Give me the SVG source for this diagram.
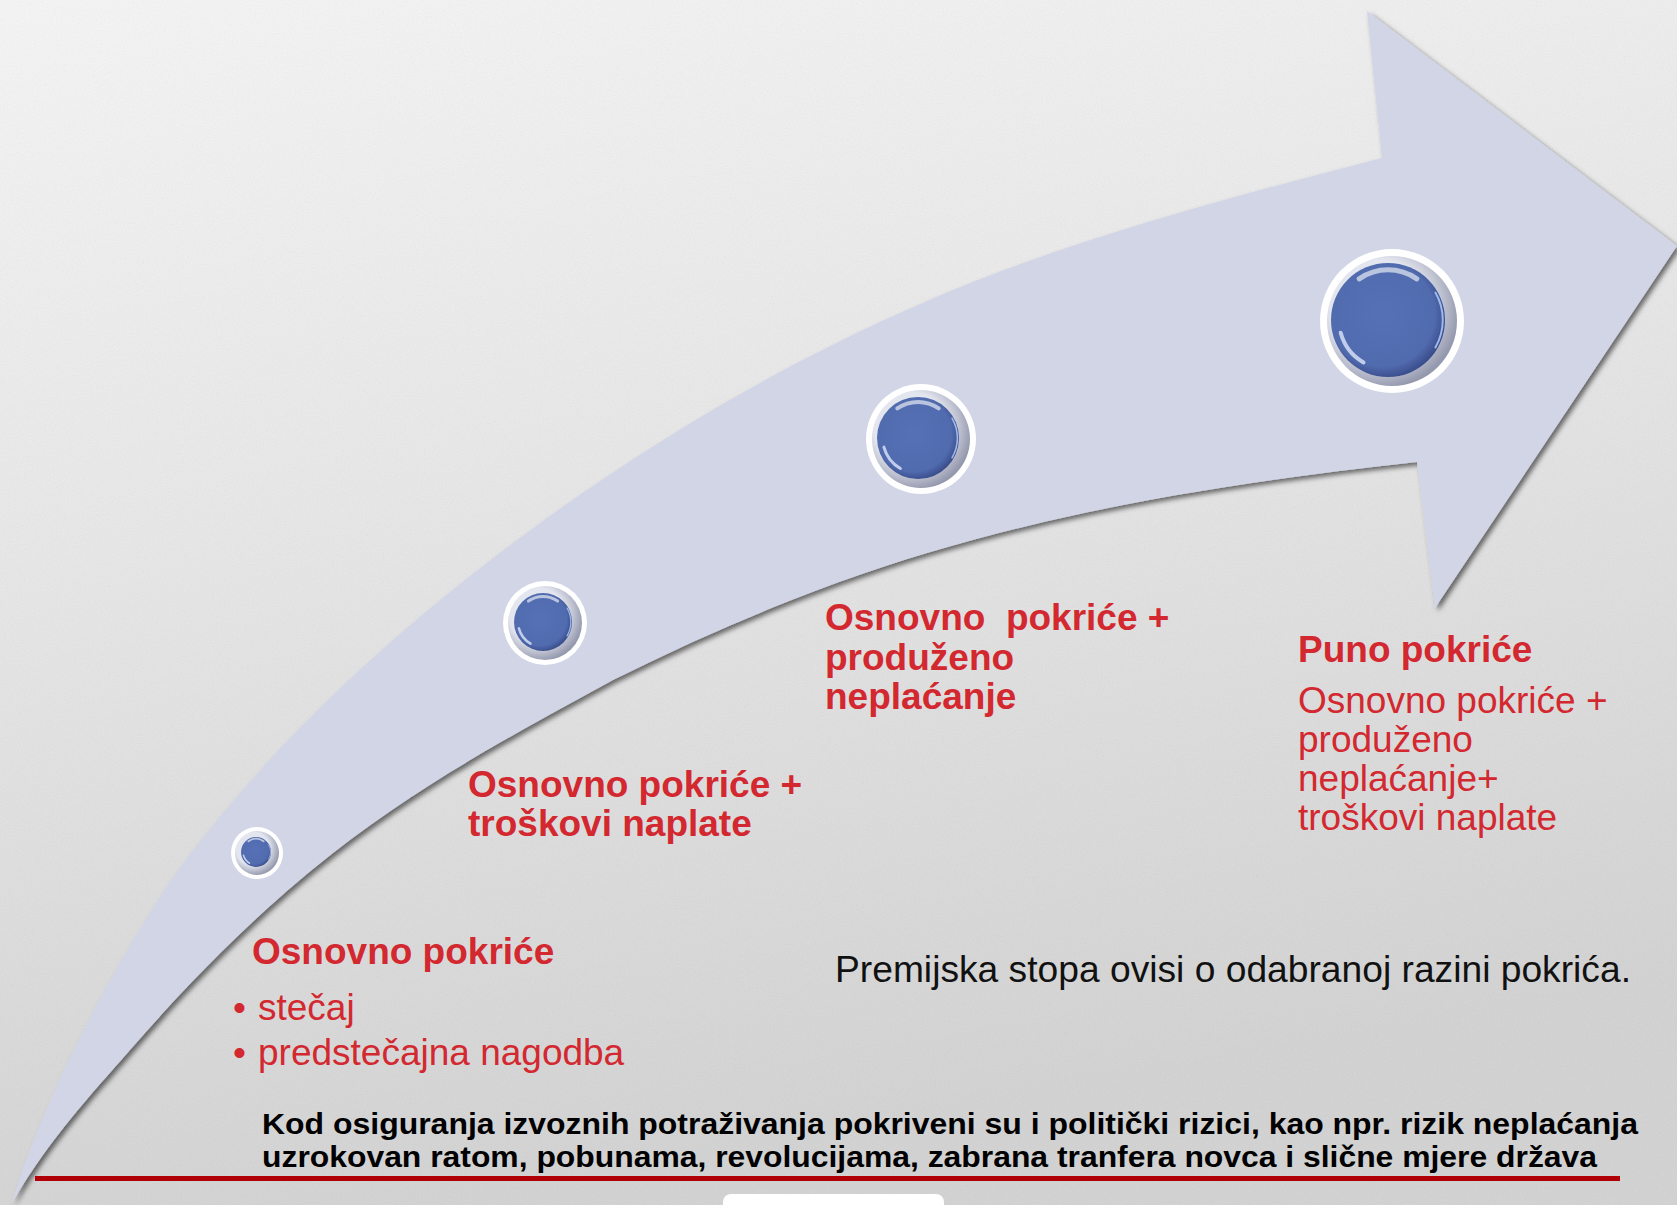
<svg xmlns="http://www.w3.org/2000/svg" width="1677" height="1205" viewBox="0 0 1677 1205">
<style>
.bold{font-family:"Liberation Sans",Arial,sans-serif;font-weight:bold;font-size:37px;fill:#D3282F}
.reg{font-family:"Liberation Sans",Arial,sans-serif;font-size:37px;fill:#D3282F}
.blk{font-family:"Liberation Sans",Arial,sans-serif;font-size:37px;fill:#111}
.note{font-family:"Liberation Sans",Arial,sans-serif;font-weight:bold;font-size:29px;fill:#000}
.ring{fill:#fff}
.gap{fill:url(#gapGrad)}
.disc{fill:url(#discGrad)}
.hl{fill:none;stroke:#fff;stroke-linecap:round;opacity:0.6}
.hl2{fill:none;stroke:#E6EEFF;stroke-linecap:round;opacity:0.75}
.rim{fill:none;stroke:#A9C3F5;stroke-linecap:round;opacity:0.9}
</style>
<defs>
<linearGradient id="bg" x1="0" y1="0" x2="0.25" y2="1">
<stop offset="0" stop-color="#F6F6F6"/>
<stop offset="0.45" stop-color="#E8E8E8"/>
<stop offset="1" stop-color="#D3D3D3"/>
</linearGradient>
<filter id="noise" x="0" y="0" width="100%" height="100%">
<feTurbulence type="fractalNoise" baseFrequency="0.9" numOctaves="2" seed="3"/>
<feColorMatrix type="saturate" values="0"/>
</filter>
<filter id="shadow" x="-5%" y="-5%" width="110%" height="110%">
<feDropShadow dx="3" dy="3" stdDeviation="2.5" flood-color="#000" flood-opacity="0.55"/>
</filter>
<radialGradient id="gapGrad" cx="0.4" cy="0.4" r="0.62">
<stop offset="0.6" stop-color="#E4E6EF"/>
<stop offset="1" stop-color="#9599AE"/>
</radialGradient>
<radialGradient id="discGrad" cx="0.45" cy="0.45" r="0.56">
<stop offset="0" stop-color="#5671B6"/>
<stop offset="0.82" stop-color="#516BAF"/>
<stop offset="1" stop-color="#3A4E8C"/>
</radialGradient>
</defs>

<g id="background">
<rect x="0" y="0" width="1677" height="1205" fill="url(#bg)"/>
<rect x="0" y="0" width="1677" height="1205" filter="url(#noise)" opacity="0.13"/>
</g>

<g id="connectors">
<path id="arrow" filter="url(#shadow)" fill="#D1D5E6" d="M 12,1203 C 42.2,1097.2 130,932.3 191,853 C 281.9,734.8 393.8,632.4 513,543 C 641,447 780,364.2 927,301 C 1073.1,238.2 1228.1,198 1382,158 L 1367,11 L 1677,246 L 1435,608 L 1417,462 C 1253.7,480 1090.3,504 927,553 C 822.3,584.4 717.7,627.7 613,680 C 519.7,731.3 426.3,780.2 333,853 C 265.3,905.8 197.7,972.1 130,1050 C 90.7,1095.2 51.3,1136.2 12,1203 Z"/>
</g>

<g id="stage1">
<circle class="ring" cx="257" cy="853" r="26"/>
<circle class="gap" cx="257" cy="853" r="22"/>
<circle class="disc" cx="256" cy="852" r="15"/>
<path class="hl" stroke-width="2" d="M 248.4,841.2 A 13.2,13.2 0 0 1 263.6,841.2"/>
<path class="hl2" stroke-width="1.6" d="M 249.5,863.2 A 12.9,12.9 0 0 1 243.5,855.3"/>
<path class="rim" stroke-width="0.8" d="M 268.5,844.8 A 14.4,14.4 0 0 1 268.5,859.2"/>
<text class="bold" x="252" y="964">Osnovno pokriće</text>
<text class="reg" x="233" y="1020">•</text>
<text class="reg" x="258" y="1020">stečaj</text>
<text class="reg" x="233" y="1065">•</text>
<text class="reg" x="258" y="1065">predstečajna nagodba</text>
</g>

<g id="stage2">
<circle class="ring" cx="545" cy="623" r="42"/>
<circle class="gap" cx="545" cy="623" r="37"/>
<circle class="disc" cx="543" cy="622" r="29"/>
<path class="hl" stroke-width="3" d="M 528.4,601.1 A 25.5,25.5 0 0 1 557.6,601.1"/>
<path class="hl2" stroke-width="2.5" d="M 530.5,643.6 A 24.9,24.9 0 0 1 518.9,628.4"/>
<path class="rim" stroke-width="1.2" d="M 567.1,608.1 A 27.8,27.8 0 0 1 567.1,635.9"/>
<text class="bold" x="468" y="797">Osnovno pokriće +</text>
<text class="bold" x="468" y="836">troškovi naplate</text>
</g>

<g id="stage3">
<circle class="ring" cx="921" cy="439" r="55"/>
<circle class="gap" cx="921" cy="439" r="49"/>
<circle class="disc" cx="918" cy="438" r="41"/>
<path class="hl" stroke-width="4" d="M 897.3,408.4 A 36.1,36.1 0 0 1 938.7,408.4"/>
<path class="hl2" stroke-width="3" d="M 900.4,468.5 A 35.3,35.3 0 0 1 883.9,447.1"/>
<path class="rim" stroke-width="1.6" d="M 952.1,418.3 A 39.4,39.4 0 0 1 952.1,457.7"/>
<text class="bold" x="825" y="630" xml:space="preserve">Osnovno  pokriće +</text>
<text class="bold" x="825" y="670">produženo</text>
<text class="bold" x="825" y="709">neplaćanje</text>
</g>

<g id="stage4">
<circle class="ring" cx="1392" cy="321" r="72"/>
<circle class="gap" cx="1392" cy="321" r="65"/>
<circle class="disc" cx="1388" cy="320" r="57"/>
<path class="hl" stroke-width="5" d="M 1359.2,278.9 A 50.2,50.2 0 0 1 1416.8,278.9"/>
<path class="hl2" stroke-width="4" d="M 1363.5,362.4 A 49,49 0 0 1 1340.7,332.7"/>
<path class="rim" stroke-width="2" d="M 1435.4,292.6 A 54.7,54.7 0 0 1 1435.4,347.4"/>
<text class="bold" x="1298" y="662">Puno pokriće</text>
<text class="reg" x="1298" y="713">Osnovno pokriće +</text>
<text class="reg" x="1298" y="752">produženo</text>
<text class="reg" x="1298" y="791">neplaćanje+</text>
<text class="reg" x="1298" y="830">troškovi naplate</text>
</g>

<g id="premium-note">
<text class="blk" x="835" y="982" textLength="796" lengthAdjust="spacingAndGlyphs">Premijska stopa ovisi o odabranoj razini pokrića.</text>
</g>

<g id="political-note">
<text class="note" x="262" y="1134" textLength="1376" lengthAdjust="spacingAndGlyphs">Kod osiguranja izvoznih potraživanja pokriveni su i politički rizici, kao npr. rizik neplaćanja</text>
<text class="note" x="262" y="1167" textLength="1335" lengthAdjust="spacingAndGlyphs">uzrokovan ratom, pobunama, revolucijama, zabrana tranfera novca i slične mjere država</text>
<rect x="35" y="1176" width="1585" height="5" fill="#B00005"/>
</g>

<rect id="footer-tab" x="723" y="1194" width="221" height="24" rx="8" fill="#FFFFFF"/>
</svg>
